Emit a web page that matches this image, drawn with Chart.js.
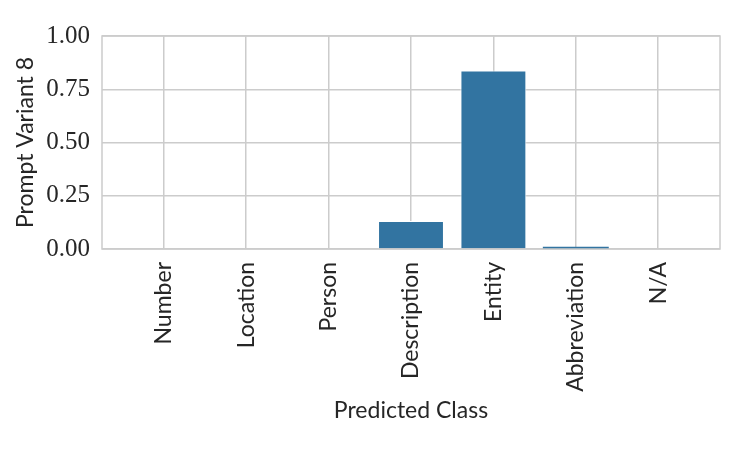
<!DOCTYPE html>
<html><head><meta charset="utf-8">
<script src="https://cdn.jsdelivr.net/npm/chart.js@4/dist/chart.umd.min.js"></script>
<style>html,body{margin:0;padding:0;background:#fff}#wrap{width:747px;height:449px}</style>
</head><body><div id="wrap"><canvas id="c" width="747" height="449"></canvas></div>
<script>
const categories = ["Number","Location","Person","Description","Entity","Abbreviation","N/A"];
const values = [0, 0, 0, 0.131, 0.838, 0.01, 0];
const yTicks = [0, 0.25, 0.5, 0.75, 1.0];
const yTitle = "Prompt Variant 8";
const xTitle = "Predicted Class";

const serif = "'Liberation Serif', 'DejaVu Serif', serif";
const sans = "Lato, 'DejaVu Sans', sans-serif";

const frame = {
  id: 'frame',
  beforeDatasetsDraw(chart) {
    const a = chart.chartArea, ctx = chart.ctx;
    ctx.save();
    ctx.strokeStyle = '#cccccc';
    ctx.lineWidth = 1.5;
    ctx.strokeRect(a.left, a.top, a.right - a.left, a.bottom - a.top);
    ctx.restore();
  }
};

new Chart(document.getElementById('c'), {
  type: 'bar',
  data: {
    datasets: [{
      data: values.map((v, i) => ({x: i, y: v})),
      backgroundColor: '#3274a1',
      borderColor: '#ffffff',
      borderWidth: (ctx) => (ctx.raw && ctx.raw.y < 0.05) ? 0 : {top: 1, left: 1, right: 1, bottom: 0},
      borderSkipped: 'bottom',
      barPercentage: 0.8,
      categoryPercentage: 1.0
    }]
  },
  options: {
    responsive: false,
    animation: false,
    layout: {padding: {left: 12, right: 27, top: 36, bottom: 25}},
    plugins: {legend: {display: false}, tooltip: {enabled: false}},
    scales: {
      x: {
        type: 'linear',
        offset: false,
        min: -0.75, max: 6.75,
        afterBuildTicks(s) { s.ticks = categories.map((c, i) => ({value: i})); },
        afterFit(s) { s.height = 449 - 25 - 249; },
        grid: {color: '#cccccc', lineWidth: 1.5, drawTicks: false, offset: false},
        border: {display: false},
        ticks: {
          autoSkip: false, minRotation: 90, maxRotation: 90, padding: 13,
          color: '#262626', font: {family: sans, size: 23},
          callback: (v) => categories[v] ?? ''
        },
        title: {display: true, text: xTitle, color: '#262626', font: {family: sans, size: 23}, padding: 0}
      },
      y: {
        min: 0, max: 1,
        afterBuildTicks(s) { s.ticks = yTicks.map(v => ({value: v})); },
        afterFit(s) { s.width = 102 - 12; },
        grid: {color: '#cccccc', lineWidth: 1.5, drawTicks: false},
        border: {display: false},
        ticks: {
          padding: 12, color: '#262626', font: {family: serif, size: 25},
          callback: (v) => v.toFixed(2)
        },
        title: {display: true, text: yTitle, color: '#262626', font: {family: sans, size: 23}, padding: 0}
      }
    }
  },
  plugins: [frame]
});
</script></body></html>
